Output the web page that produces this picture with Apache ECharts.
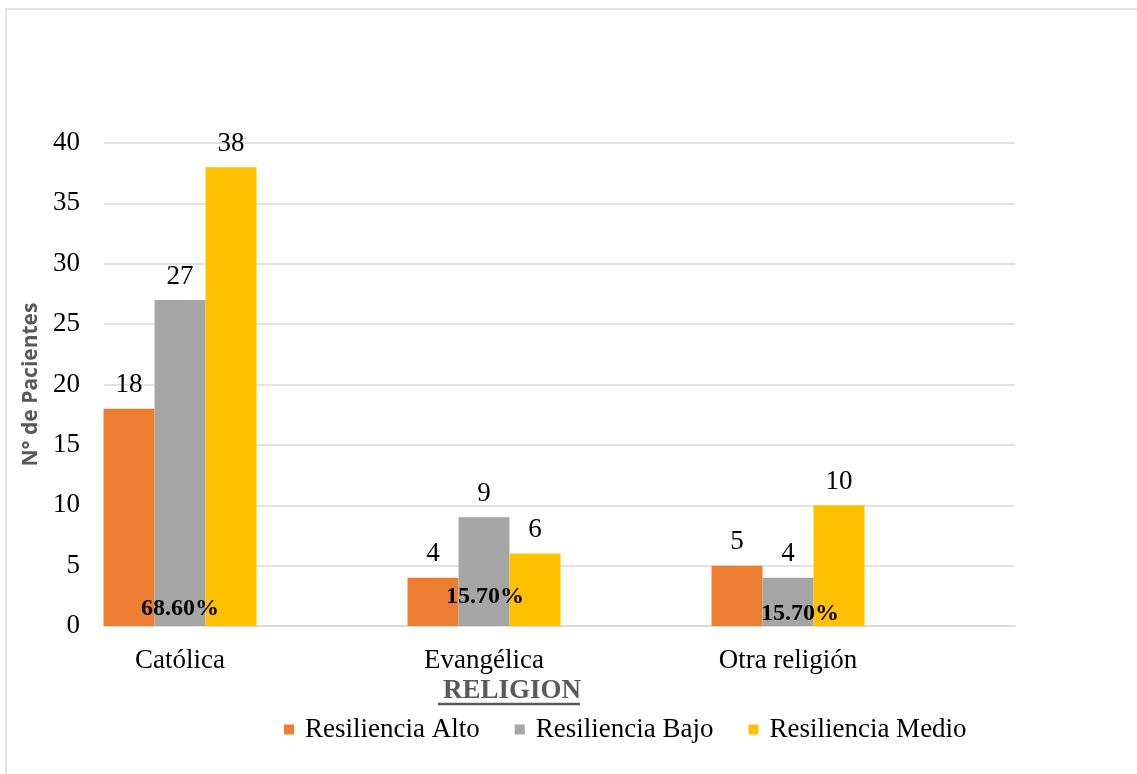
<!DOCTYPE html>
<html>
<head>
<meta charset="utf-8">
<script src="https://cdn.jsdelivr.net/npm/echarts@6/dist/echarts.min.js"></script>
<style>
  html, body { margin: 0; padding: 0; background: #fff; }
  #main { width: 1137px; height: 774px; }
</style>
</head>
<body>
<div id="main"></div>
<script>
// datos del grafico
var categorias = ['Católica', 'Evangélica', 'Otra religión'];
var resAlto = [18, 4, 5];
var resBajo = [27, 9, 4];
var resMedio = [38, 6, 10];
var porcentajes = ['68.60%', '15.70%', '15.70%'];
var yTicks = [0, 5, 10, 15, 20, 25, 30, 35, 40];

var serif = '"Liberation Serif", "DejaVu Serif", serif';
var gris = '#d9d9d9';

var myChart = echarts.init(document.getElementById('main'));

// etiqueta del valor encima de cada barra
var labelTop = {
  show: true,
  position: 'top',
  distance: 10,
  fontFamily: serif,
  fontSize: 27,
  color: '#000'
};

// ajuste de cada porcentaje respecto a la base de la barra gris
var pctOffsets = [[0, -17], [1, -29], [12, -12]];

var option = {
  animation: false,
  backgroundColor: '#fff',
  graphic: [
    { // borde exterior
      type: 'rect',
      shape: { x: 6, y: 9, width: 1140, height: 800 },
      style: { fill: 'none', stroke: gris, lineWidth: 1.5 },
      silent: true
    },
    { // subrayado de RELIGION
      type: 'line',
      shape: { x1: 438, y1: 704, x2: 580, y2: 704 },
      style: { stroke: '#595959', lineWidth: 2.5 },
      silent: true
    }
  ],
  title: {
    text: 'RELIGION',
    left: 507,
    top: 673,
    textAlign: 'center',
    textStyle: { fontFamily: serif, fontSize: 27, fontWeight: 'bold', color: '#595959' }
  },
  legend: {
    data: ['Resiliencia Alto', 'Resiliencia Bajo', 'Resiliencia Medio'],
    left: 279,
    top: 711,
    icon: 'rect',
    itemWidth: 10,
    itemHeight: 10,
    itemGap: 35,
    textStyle: { fontFamily: serif, fontSize: 27, color: '#000', padding: [0, 0, 0, 6] }
  },
  grid: [
    { left: 104, right: 122, top: 143, bottom: 148 },
    { left: 28, right: 197, top: 143, bottom: 148 }
  ],
  xAxis: [
    {
      gridIndex: 0,
      type: 'category',
      data: categorias,
      axisLine: { show: true, lineStyle: { color: gris, width: 1.5 } },
      axisTick: { show: false },
      axisLabel: { show: false }
    },
    {
      gridIndex: 1,
      type: 'category',
      data: categorias,
      axisLine: { show: false },
      axisTick: { show: false },
      axisLabel: { margin: 21, fontFamily: serif, fontSize: 27, color: '#000' }
    }
  ],
  yAxis: [
    {
      gridIndex: 0,
      type: 'value',
      min: yTicks[0],
      max: yTicks[yTicks.length - 1],
      interval: yTicks[1] - yTicks[0],
      name: 'N° de Pacientes',
      nameLocation: 'middle',
      nameGap: 62,
      nameTextStyle: { fontFamily: '"Open Sans", "Noto Sans", sans-serif', fontSize: 21, fontWeight: 'bold', color: '#595959' },
      axisLine: { show: false },
      axisTick: { show: false },
      axisLabel: { margin: 24, fontFamily: serif, fontSize: 27, color: '#000' },
      splitLine: { lineStyle: { color: gris, width: 1.5 } }
    },
    {
      gridIndex: 1,
      type: 'value',
      min: yTicks[0],
      max: yTicks[yTicks.length - 1],
      interval: yTicks[1] - yTicks[0],
      show: false
    }
  ],
  series: [
    {
      name: 'Resiliencia Alto',
      type: 'bar',
      xAxisIndex: 1,
      yAxisIndex: 1,
      data: resAlto,
      barWidth: 51,
      barGap: '0%',
      itemStyle: { color: '#ED7D31' },
      label: labelTop
    },
    {
      name: 'Resiliencia Bajo',
      type: 'bar',
      xAxisIndex: 1,
      yAxisIndex: 1,
      data: resBajo,
      barWidth: 51,
      barGap: '0%',
      itemStyle: { color: '#A5A5A5' },
      label: labelTop,
      // porcentaje de cada religion, anclado a la base de la barra gris
      markPoint: {
        symbol: 'rect',
        symbolSize: [1, 1],
        silent: true,
        z: 10,
        itemStyle: { color: 'rgba(0,0,0,0)' },
        data: porcentajes.map(function (p, i) {
          return {
            coord: [i, 0],
            value: p,
            label: {
              show: true,
              position: 'inside',
              offset: pctOffsets[i],
              formatter: p,
              fontFamily: serif,
              fontSize: 24,
              fontWeight: 'bold',
              color: '#000'
            }
          };
        })
      }
    },
    {
      name: 'Resiliencia Medio',
      type: 'bar',
      xAxisIndex: 1,
      yAxisIndex: 1,
      data: resMedio,
      barWidth: 51,
      barGap: '0%',
      itemStyle: { color: '#FFC000' },
      label: labelTop
    }
  ]
};

myChart.setOption(option);
window.onresize = function () {
  myChart.resize();
};
</script>
</body>
</html>
